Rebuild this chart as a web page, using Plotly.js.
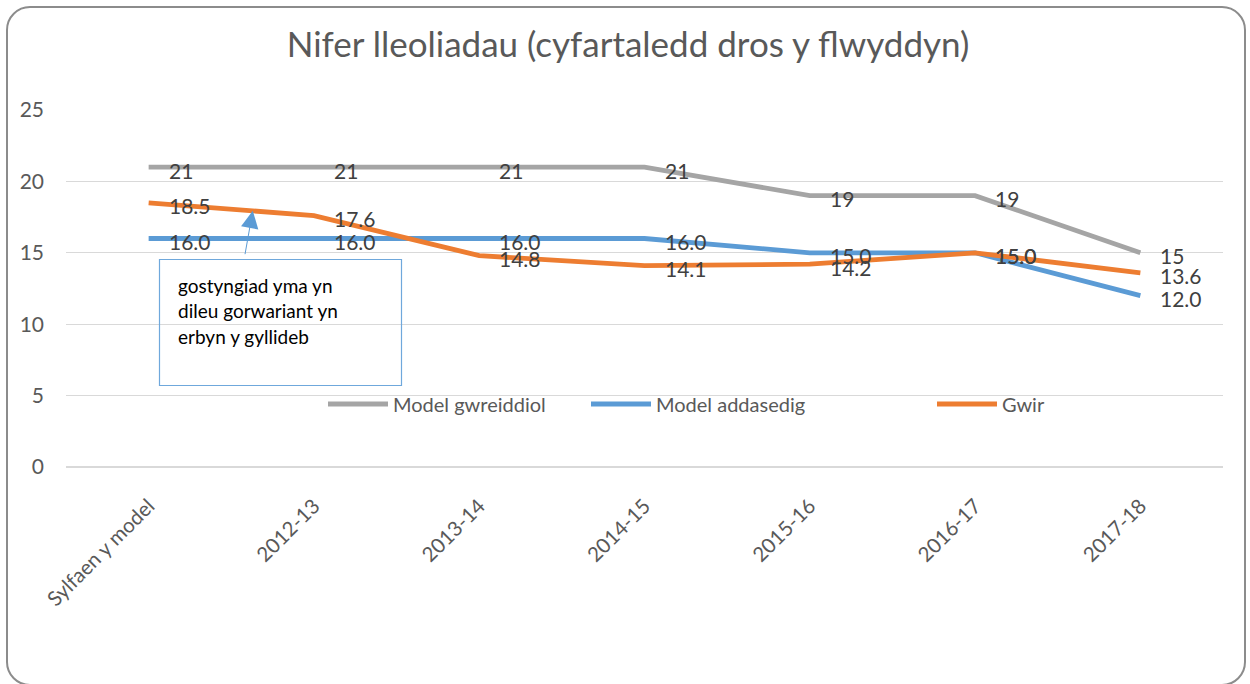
<!DOCTYPE html>
<html>
<head>
<meta charset="utf-8">
<script src="https://cdn.plot.ly/plotly-3.0.1.min.js"></script>
<style>
  html, body { margin: 0; padding: 0; background: #ffffff; }
  #wrap { position: relative; width: 1250px; height: 684px; }
  #chart { position: absolute; left: 0; top: 0; width: 1250px; height: 684px; }
  #frame { position: absolute; left: 6px; top: 6px; width: 1240px; height: 680px;
           border: 2px solid #8c8c8c; border-radius: 24px; pointer-events: none; box-sizing: border-box; }
</style>
</head>
<body>
<div id="wrap"><div id="chart"></div><div id="frame"></div></div>
<script>
const categories = ["Sylfaen y model", "2012-13", "2013-14", "2014-15", "2015-16", "2016-17", "2017-18"];
const modelGwreiddiol = [21, 21, 21, 21, 19, 19, 15];
const modelAddasedig = [16.0, 16.0, 16.0, 16.0, 15.0, 15.0, 12.0];
const gwir = [18.5, 17.6, 14.8, 14.1, 14.2, 15.0, 13.6];
const seriesNames = ["Model gwreiddiol", "Model addasedig", "Gwir"];
const yTicks = [0, 5, 10, 15, 20, 25];
const titleText = "Nifer lleoliadau (cyfartaledd dros y flwyddyn)";
const noteLines = ["gostyngiad yma yn", "dileu gorwariant yn", "erbyn y gyllideb"];

const FONT = "Lato, 'Open Sans', sans-serif";
const colors = ["#A5A5A5", "#5B9BD5", "#ED7D31"];
const series = [modelGwreiddiol, modelAddasedig, gwir];
const decimals = [0, 1, 1];
const legendIds = ["legend", "legend2", "legend3"];

// plot-area pixel helpers (for annotation / legend placement only)
const PL = 66, PR = 1223, PT = 110, PB = 467;
const px = (x) => (x - PL) / (PR - PL);
const py = (y) => (PB - y) / (PB - PT);

const traces = series.map((vals, i) => ({
  type: "scatter",
  mode: "lines",
  x: categories,
  y: vals,
  name: seriesNames[i],
  line: { color: colors[i], width: 4.8 },
  legend: legendIds[i],
  hoverinfo: "x+y+name"
}));

const annotations = [];
series.forEach((vals, i) => {
  vals.forEach((v, j) => {
    annotations.push({
      x: categories[j], y: v, xref: "x", yref: "y",
      text: v.toFixed(decimals[i]),
      showarrow: false, xanchor: "left", yanchor: "middle",
      xshift: 18, yshift: -3,
      font: { family: FONT, size: 21, color: "#404040" }
    });
  });
});

// note text, one line each
noteLines.forEach((line, k) => {
  annotations.push({
    xref: "paper", yref: "paper",
    x: px(176), y: py(285 + k * 25.5),
    xanchor: "left", yanchor: "middle",
    text: line, showarrow: false,
    font: { family: FONT, size: 19, color: "#000000" }
  });
});
// arrow pointing at the line
annotations.push({
  x: 0.63, y: 17.95, xref: "x", yref: "y",
  text: "", showarrow: true,
  ax: -8, ay: 45, axref: "pixel", ayref: "pixel",
  arrowhead: 2, arrowsize: 3.5, arrowwidth: 1, arrowcolor: "#5B9BD5",
  standoff: 0
});

const shapes = [{
  type: "rect", xref: "paper", yref: "paper",
  x0: px(159.5), x1: px(401.5), y0: py(259.5), y1: py(385.5),
  line: { color: "#6FA8DC", width: 1.2 }, fillcolor: "rgba(0,0,0,0)"
}];

const legendBase = (x) => ({
  x: x, y: py(404), xref: "paper", yref: "paper",
  xanchor: "left", yanchor: "middle", orientation: "h",
  bgcolor: "rgba(0,0,0,0)", borderwidth: 0, itemwidth: 60,
  font: { family: FONT, size: 20, color: "#595959" }
});

const layout = {
  width: 1250, height: 684,
  margin: { l: PL, r: 1250 - PR, t: PT, b: 684 - PB, pad: 0 },
  paper_bgcolor: "#ffffff", plot_bgcolor: "#ffffff",
  title: {
    text: titleText, x: 628 / 1250, xref: "container", xanchor: "center",
    y: 1 - 45 / 684, yref: "container", yanchor: "middle",
    font: { family: FONT, size: 35, color: "#595959" }
  },
  xaxis: {
    type: "category", range: [-0.5, 6.5],
    showgrid: false, zeroline: false, showline: false, ticks: "",
    tickangle: -45, ticklabelstandoff: 22,
    tickfont: { family: FONT, size: 20.5, color: "#595959" },
    fixedrange: true
  },
  yaxis: {
    range: [0, 25], tickvals: yTicks, ticktext: yTicks.map(String),
    showgrid: true, gridcolor: "#D9D9D9", gridwidth: 1.2,
    zeroline: true, zerolinecolor: "#D9D9D9", zerolinewidth: 1.2,
    showline: false, ticks: "", ticklabelstandoff: 21,
    tickfont: { family: FONT, size: 21, color: "#595959" },
    fixedrange: true
  },
  legend: legendBase(px(323)),
  legend2: legendBase(px(586)),
  legend3: legendBase(px(932)),
  showlegend: true,
  shapes: shapes,
  annotations: annotations
};

Plotly.newPlot("chart", traces, layout, { displayModeBar: false, staticPlot: true });
</script>
</body>
</html>
